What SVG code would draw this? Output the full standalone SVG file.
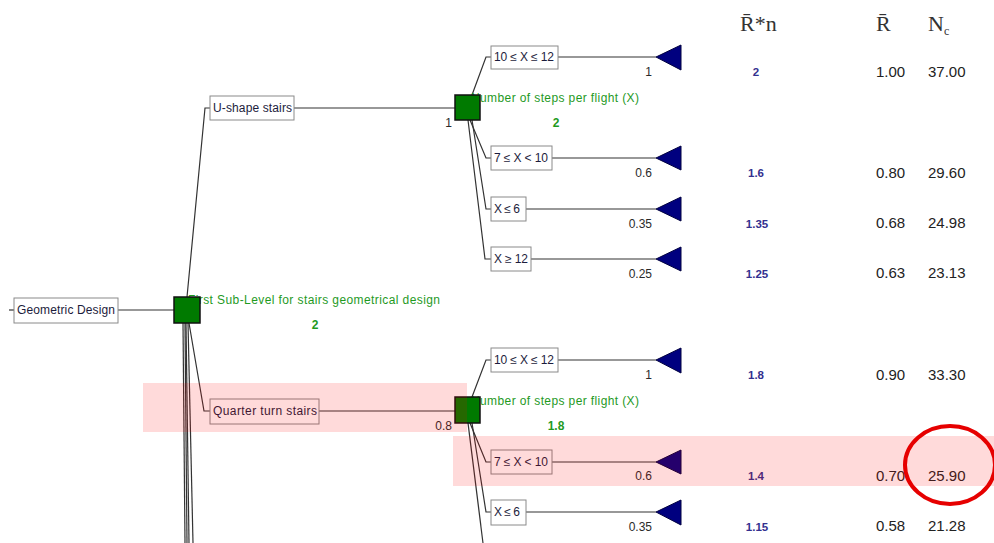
<svg xmlns="http://www.w3.org/2000/svg" width="994" height="543" viewBox="0 0 994 543">
<defs>
<style>
.ln{stroke:#333;stroke-width:1.2;fill:none}
.box{fill:#fff;stroke:#8a8a8a;stroke-width:1}
.bt{font-family:"Liberation Sans",Arial,sans-serif;font-size:12px;fill:#1c1c3c}
.dec{fill:#007a00;stroke:#111;stroke-width:1.5}
.gl{font-family:"Liberation Sans",Arial,sans-serif;font-size:12px;fill:#1f9a1f}
.gn{font-family:"Liberation Sans",Arial,sans-serif;font-size:12px;font-weight:bold;fill:#1f9a1f;text-anchor:middle}
.pr{font-family:"Liberation Sans",Arial,sans-serif;font-size:12px;fill:#2a2a2a;text-anchor:end}
.tri{fill:#00007f;stroke:#000040;stroke-width:1}
.rn{font-family:"Liberation Sans",Arial,sans-serif;font-size:11.5px;font-weight:bold;fill:#33308f;text-anchor:middle}
.val{font-family:"Liberation Sans",Arial,sans-serif;font-size:15px;fill:#222}
.hd{font-family:"Liberation Serif","Times New Roman",serif;font-size:22px;fill:#333}
.hl{fill:#ff0000;fill-opacity:0.145}
</style>
</defs>
<rect width="994" height="543" fill="#fff"/>
<g id="connectors">
<path class="ln" d="M9,310 H14"/>
<path class="ln" d="M118,310 H174"/>
<path class="ln" d="M187,297 L205,108 H210"/>
<path class="ln" d="M294,108 H455"/>
<path class="ln" d="M189,323 L204,411 H210"/>
<path class="ln" d="M319,411 H455"/>
<path class="ln" d="M183,323 L185,543"/>
<path class="ln" d="M185,323 L187,543"/>
<path class="ln" d="M186,323 L189,543"/>
<path class="ln" d="M188,323 L193,543"/>
<path class="ln" d="M472,95 L486,57 H491"/>
<path class="ln" d="M558,57 H656"/>
<path class="ln" d="M470,120 L486,158 H491"/>
<path class="ln" d="M552,158 H656"/>
<path class="ln" d="M472,120 L486,209 H491"/>
<path class="ln" d="M526,209 H656"/>
<path class="ln" d="M468,120 L485,259 H491"/>
<path class="ln" d="M531,259 H656"/>
<path class="ln" d="M472,397 L486,360 H491"/>
<path class="ln" d="M558,360 H656"/>
<path class="ln" d="M470,423 L486,462 H491"/>
<path class="ln" d="M552,462 H656"/>
<path class="ln" d="M472,423 L486,512 H491"/>
<path class="ln" d="M526,512 H656"/>
<path class="ln" d="M468,423 L483,543"/>
</g>
<g id="n-geometric-design">
<rect class="box" x="14" y="298" width="104" height="25"/>
<text class="bt" x="17" y="314" textLength="98">Geometric Design</text>
</g>
<g id="n-first-sublevel">
<text class="gl" x="188" y="304" textLength="252">First Sub-Level for stairs geometrical design</text>
<rect class="dec" x="174" y="297" width="26" height="26"/>
<text class="gn" x="315" y="329">2</text>
</g>
<g id="n-u-shape">
<rect class="box" x="210" y="96" width="84" height="24"/>
<text class="bt" x="213" y="112" textLength="79">U-shape stairs</text>
</g>
<g id="n-steps-1">
<text class="gl" x="471" y="102" textLength="168">Number of steps per flight (X)</text>
<rect class="dec" x="455" y="95" width="25" height="25"/>
<text class="pr" x="452" y="127">1</text>
<text class="gn" x="556" y="127">2</text>
</g>
<g id="n-a1">
<rect class="box" x="491" y="46" width="67" height="23"/>
<text class="bt" x="494" y="61" textLength="60">10 ≤ X ≤ 12</text>
<polygon class="tri" points="656,57 681,45 681,70"/>
<text class="pr" x="652" y="76">1</text>
</g>
<g id="n-a2">
<rect class="box" x="491" y="146" width="61" height="24"/>
<text class="bt" x="494" y="162" textLength="54">7 ≤ X &lt; 10</text>
<polygon class="tri" points="656,158 681,146 681,170"/>
<text class="pr" x="652" y="177">0.6</text>
</g>
<g id="n-a3">
<rect class="box" x="491" y="197" width="35" height="24"/>
<text class="bt" x="494" y="213" textLength="26">X ≤ 6</text>
<polygon class="tri" points="656,209 681,197 681,221"/>
<text class="pr" x="652" y="228">0.35</text>
</g>
<g id="n-a4">
<rect class="box" x="491" y="247" width="40" height="24"/>
<text class="bt" x="494" y="263" textLength="34">X ≥ 12</text>
<polygon class="tri" points="656,259 681,247 681,271"/>
<text class="pr" x="652" y="278">0.25</text>
</g>
<g id="n-quarter-turn">
<rect class="box" x="210" y="399" width="109" height="25"/>
<text class="bt" x="213" y="415" textLength="104">Quarter turn stairs</text>
</g>
<g id="n-steps-2">
<text class="gl" x="471" y="405" textLength="168">Number of steps per flight (X)</text>
<rect class="dec" x="455" y="397" width="25" height="26"/>
<text class="pr" x="452" y="430">0.8</text>
<text class="gn" x="556" y="430">1.8</text>
</g>
<g id="n-b1">
<rect class="box" x="491" y="348" width="67" height="24"/>
<text class="bt" x="494" y="364" textLength="60">10 ≤ X ≤ 12</text>
<polygon class="tri" points="656,360 681,348 681,373"/>
<text class="pr" x="652" y="379">1</text>
</g>
<g id="n-b2">
<rect class="box" x="491" y="450" width="61" height="24"/>
<text class="bt" x="494" y="466" textLength="54">7 ≤ X &lt; 10</text>
<polygon class="tri" points="656,462 681,450 681,474"/>
<text class="pr" x="652" y="480">0.6</text>
</g>
<g id="n-b3">
<rect class="box" x="491" y="500" width="35" height="25"/>
<text class="bt" x="494" y="516" textLength="26">X ≤ 6</text>
<polygon class="tri" points="656,512 681,500 681,525"/>
<text class="pr" x="652" y="531">0.35</text>
</g>
<g id="table">
<text class="hd" x="740" y="31">R̄*n</text>
<text class="hd" x="876" y="31">R̄</text>
<text class="hd" x="928" y="31">N<tspan font-size="12" dy="4">c</tspan></text>
<text class="rn" x="756" y="76">2</text>
<text class="val" x="876" y="77">1.00</text>
<text class="val" x="928" y="77">37.00</text>
<text class="rn" x="756" y="177">1.6</text>
<text class="val" x="876" y="178">0.80</text>
<text class="val" x="928" y="178">29.60</text>
<text class="rn" x="757" y="228">1.35</text>
<text class="val" x="876" y="228">0.68</text>
<text class="val" x="928" y="228">24.98</text>
<text class="rn" x="757" y="278">1.25</text>
<text class="val" x="876" y="278">0.63</text>
<text class="val" x="928" y="278">23.13</text>
<text class="rn" x="756" y="379">1.8</text>
<text class="val" x="876" y="380">0.90</text>
<text class="val" x="928" y="380">33.30</text>
<text class="rn" x="756" y="480">1.4</text>
<text class="val" x="876" y="481">0.70</text>
<text class="val" x="928" y="481">25.90</text>
<text class="rn" x="757" y="531">1.15</text>
<text class="val" x="876" y="531">0.58</text>
<text class="val" x="928" y="531">21.28</text>
</g>
<g id="highlights">
<rect class="hl" x="143" y="383" width="324" height="49"/>
<rect class="hl" x="453" y="436" width="541" height="50"/>
<ellipse cx="950" cy="465" rx="45" ry="39" fill="none" stroke="#e60000" stroke-width="4"/>
</g>
</svg>
